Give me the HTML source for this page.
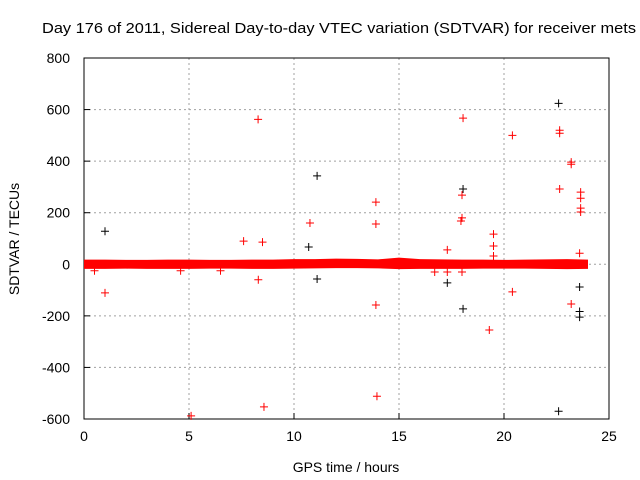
<!DOCTYPE html>
<html><head><meta charset="utf-8"><style>
body{margin:0;background:#fff}
svg{display:block;font-family:"Liberation Sans",sans-serif;font-size:14px}
</style></head><body>
<svg id="chart" width="640" height="480">
<text x="42" y="33" textLength="594" lengthAdjust="spacingAndGlyphs" font-size="15">Day 176 of 2011, Sidereal Day-to-day VTEC variation (SDTVAR) for receiver mets</text>
<text x="346" y="472" text-anchor="middle">GPS time / hours</text>
<text transform="translate(19,239) rotate(-90)" text-anchor="middle">SDTVAR / TECUs</text>
</svg>
<script>
const xTicks=[0,5,10,15,20,25];
const yTicks=[-600,-400,-200,0,200,400,600,800];
const bandHours=[0,1,2,3,4,5,6,7,8,9,10,11,12,13,14,15,16,17,18,19,20,21,22,23,24];
const bandHigh=[18,18,17,17,18,18,17,17,18,18,20,20,22,21,19,26,20,19,18,18,17,18,19,20,18];
const bandLow=[-18,-18,-17,-18,-18,-18,-17,-17,-18,-18,-17,-16,-15,-15,-16,-19,-18,-18,-18,-17,-17,-17,-18,-19,-18];
const redX=[1.0,5.1,8.29,8.57,7.6,8.5,8.3,10.76,13.9,13.9,13.9,13.95,18.05,18.0,18.0,17.95,18.0,17.3,17.3,16.7,19.5,19.5,19.5,19.3,20.4,20.4,22.65,22.65,22.65,23.2,23.2,23.2,23.65,23.65,23.65,23.65,23.6,4.6,6.5,0.5];
const redY=[-111,-588,562,-553,90,86,-60,160,241,156,-158,-512,567,268,180,168,-30,56,-30,-30,117,71,32,-255,500,-107,520,508,292,396,388,-154,280,256,218,203,43,-25,-25,-25];
const blackX=[1.0,22.6,22.6,11.1,10.7,11.1,18.05,18.05,17.3,23.6,23.6,23.6];
const blackY=[128,624,-570,343,67,-57,292,-173,-72,-88,-183,-205];
const NS='http://www.w3.org/2000/svg';
const svg=document.getElementById('chart');
const L=84,R=609,T=58,B=419;
const xs=v=>L+(v-0)/25*(R-L);
const ys=v=>B-(v+600)/1400*(B-T);
function mk(tag,attrs){const e=document.createElementNS(NS,tag);for(const k in attrs)e.setAttribute(k,attrs[k]);svg.appendChild(e);return e;}
xTicks.forEach(t=>{
  const x=xs(t);
  if(t>0&&t<25){const g=mk('line',{x1:x,x2:x,y1:T,y2:B,stroke:'#a0a0a0','stroke-dasharray':'2,3'});
  
  }
  const tk=mk('line',{x1:x,x2:x,y1:B,y2:B-6,stroke:'#000'});
  
  
  const lb=mk('text',{x:x,y:B+22,'text-anchor':'middle'});lb.textContent=t;
  
  
});
yTicks.forEach(t=>{
  const y=ys(t);
  if(t>-600&&t<800){const g=mk('line',{x1:L,x2:R,y1:y,y2:y,stroke:'#a0a0a0','stroke-dasharray':'2,3'});
  
  }
  const tk=mk('line',{x1:L,x2:L+6,y1:y,y2:y,stroke:'#000'});
  
  
  const lb=mk('text',{x:L-14,y:y+5,'text-anchor':'end'});lb.textContent=t;
  
  
});
const frame=mk('rect',{x:L,y:T,width:R-L,height:B-T,fill:'none',stroke:'#000'});


let d='';
bandHours.forEach((h,i)=>{d+=(i?'L':'M')+xs(h)+','+ys(bandHigh[i]);});
for(let i=bandHours.length-1;i>=0;i--)d+='L'+xs(bandHours[i])+','+ys(bandLow[i]);
const band=mk('path',{d:d+'Z',fill:'#ff0000'});


function cross(x,y,c,name){
  const px=xs(x),py=ys(y);
  const p=mk('path',{d:`M${px-4},${py}H${px+4}M${px},${py-4}V${py+4}`,stroke:c,'stroke-width':1});
  
  
}
blackX.forEach((x,i)=>cross(x,blackY[i],'#000','black-point'));
redX.forEach((x,i)=>cross(x,redY[i],'#ff0000','red-point'));
</script>
</body></html>
